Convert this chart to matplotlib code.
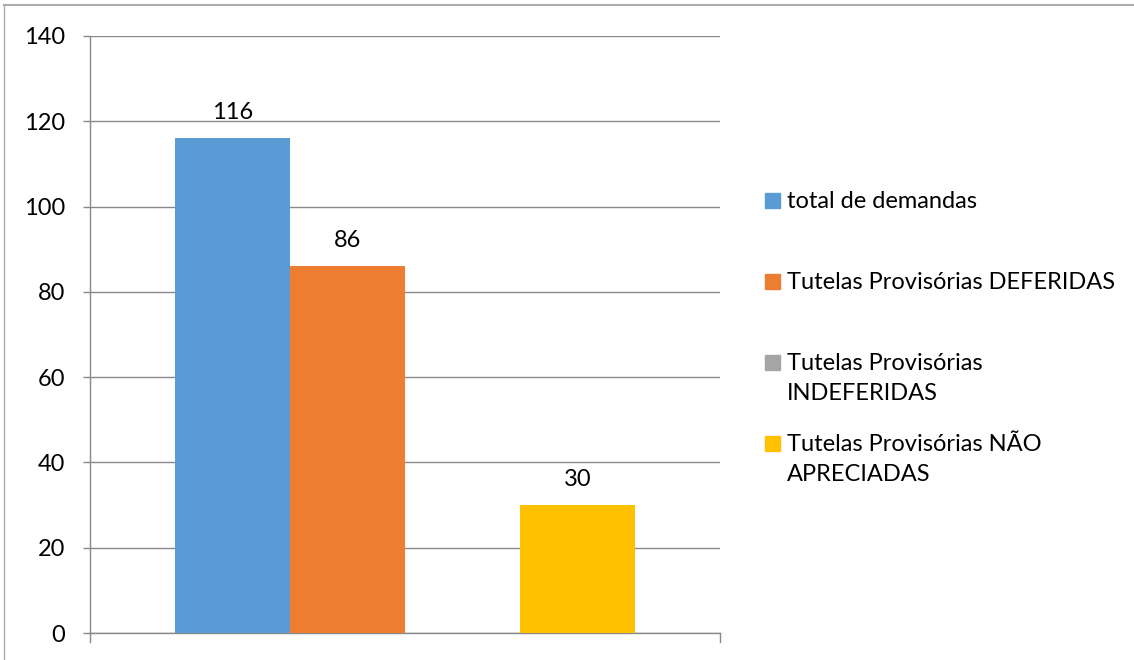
import matplotlib.pyplot as plt
from matplotlib.patches import Rectangle
from matplotlib.lines import Line2D

plt.rcParams['font.family'] = ['Lato', 'DejaVu Sans']

# data
series = ['total de demandas', 'Tutelas Provisórias DEFERIDAS',
          'Tutelas Provisórias\nINDEFERIDAS', 'Tutelas Provisórias NÃO\nAPRECIADAS']
values = [116, 86, 0, 30]
colors = ['#5B9BD5', '#ED7D31', '#A5A5A5', '#FFC000']
yticks = [0, 20, 40, 60, 80, 100, 120, 140]

W, H = 1134, 660
fs = 17
fig = plt.figure(figsize=(W / 100, H / 100), dpi=100)
ax = fig.add_axes([90 / W, (H - 633) / H, 630 / W, 597 / H])

# 4 bars side by side in one category
pos = [i - (len(values) - 1) / 2 for i in range(len(values))]
ax.bar(pos, values, width=1.0, color=colors, zorder=3)
half = 630 / 115 / 2
ax.set_xlim(-half, half)
ax.set_ylim(0, 140)

for x, v in zip(pos, values):
    if v:
        ax.annotate(str(v), (x, v), xytext=(0, 11), textcoords='offset points',
                    ha='center', va='bottom', fontsize=fs, color='#000000')

ax.set_yticks(yticks)
ax.yaxis.grid(True, color='#898989', linewidth=1.0, zorder=0)
ax.set_xticks([])
ax.tick_params(axis='y', length=5, width=1, color='#898989', pad=13, labelsize=fs)
for s in ['top', 'right']:
    ax.spines[s].set_visible(False)
for s in ['left', 'bottom']:
    ax.spines[s].set_color('#898989')
    ax.spines[s].set_linewidth(1.0)
# small end ticks on the category axis
for xx in [-half, half]:
    ax.plot([xx, xx], [0, -2.2], color='#898989', lw=1, clip_on=False)

# legend drawn by hand to keep first-line alignment
ly = [200, 281, 362, 443]
for lab, c, y in zip(series, colors, ly):
    fig.add_artist(Rectangle((765 / W, (H - y - 7.5) / H), 15 / W, 15 / H,
                             transform=fig.transFigure, color=c))
    fig.text(787 / W, (H - y + 9) / H, lab, fontsize=fs, va='top', ha='left',
             linespacing=1.55)

# chart frame (cut at image edge)
fig.add_artist(Line2D([4 / W, 1], [(H - 5) / H] * 2, color='#ABABAB', lw=1.5,
                      transform=fig.transFigure))
fig.add_artist(Line2D([4 / W] * 2, [0, (H - 5) / H], color='#ABABAB', lw=1,
                      transform=fig.transFigure))

fig.savefig('out.png', dpi=100)
